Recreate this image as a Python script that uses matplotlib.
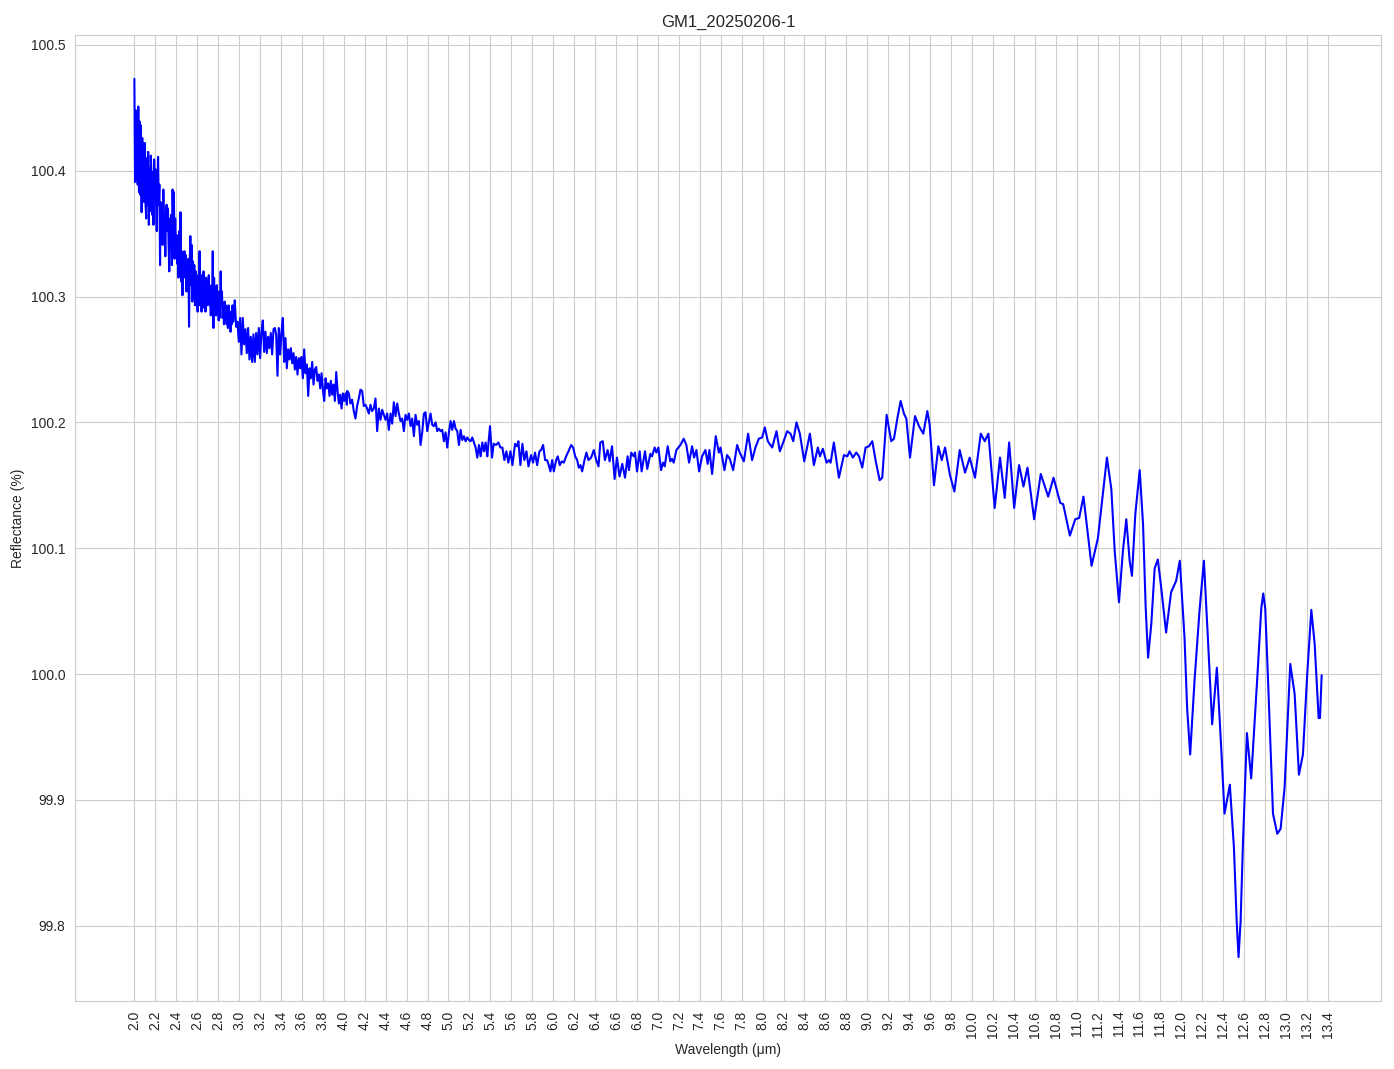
import numpy as np
import matplotlib
matplotlib.use('Agg')
import matplotlib.pyplot as plt
import seaborn as sns

# --- spectrum ---
# 2.00 - 2.95 um, evenly sampled, very noisy
wl_a = np.linspace(2.0, 2.95, 152)
refl_a = [
    100.473, 100.391, 100.448, 100.394, 100.445, 100.389, 100.451, 100.383, 100.439, 100.381,
    100.436, 100.367, 100.426, 100.386, 100.422, 100.375, 100.422, 100.373, 100.362, 100.410,
    100.373, 100.415, 100.357, 100.402, 100.368, 100.412, 100.397, 100.365, 100.399, 100.357,
    100.409, 100.378, 100.401, 100.373, 100.352, 100.391, 100.411, 100.373, 100.389, 100.325,
    100.375, 100.357, 100.373, 100.341, 100.385, 100.354, 100.362, 100.332, 100.367, 100.373,
    100.352, 100.370, 100.340, 100.320, 100.362, 100.341, 100.365, 100.325, 100.385, 100.357,
    100.383, 100.330, 100.362, 100.336, 100.349, 100.326, 100.342, 100.315, 100.352, 100.320,
    100.367, 100.312, 100.336, 100.301, 100.332, 100.315, 100.336, 100.320, 100.333, 100.304,
    100.329, 100.315, 100.330, 100.276, 100.325, 100.348, 100.309, 100.341, 100.296, 100.328,
    100.307, 100.325, 100.293, 100.320, 100.304, 100.309, 100.288, 100.317, 100.299, 100.336,
    100.293, 100.317, 100.288, 100.309, 100.293, 100.320, 100.291, 100.309, 100.288, 100.315,
    100.293, 100.309, 100.299, 100.317, 100.293, 100.308, 100.285, 100.309, 100.293, 100.336,
    100.275, 100.315, 100.293, 100.304, 100.285, 100.309, 100.288, 100.299, 100.281, 100.304,
    100.283, 100.320, 100.293, 100.304, 100.283, 100.293, 100.278, 100.296, 100.281, 100.293,
    100.278, 100.288, 100.275, 100.293, 100.278, 100.285, 100.272, 100.288, 100.278, 100.293,
    100.280, 100.286,
]

# 2.96 - 4.03 um
wl_b = np.linspace(2.959, 4.030, 85)
refl_b = [
    100.297, 100.276, 100.280, 100.264, 100.283, 100.254, 100.283, 100.262, 100.274, 100.255,
    100.275, 100.250, 100.268, 100.248, 100.270, 100.248, 100.271, 100.254, 100.275, 100.251,
    100.272, 100.281, 100.256, 100.272, 100.255, 100.268, 100.259, 100.271, 100.254, 100.274,
    100.275, 100.270, 100.237, 100.275, 100.254, 100.272, 100.283, 100.248, 100.267, 100.243,
    100.258, 100.250, 100.259, 100.247, 100.255, 100.242, 100.252, 100.238, 100.251, 100.243,
    100.252, 100.235, 100.258, 100.239, 100.246, 100.221, 100.243, 100.235, 100.248, 100.230,
    100.242, 100.244, 100.233, 100.238, 100.227, 100.239, 100.226, 100.217, 100.235, 100.227,
    100.231, 100.221, 100.233, 100.222, 100.230, 100.217, 100.240, 100.225, 100.215, 100.222,
    100.211, 100.223, 100.217, 100.223, 100.214,
]

# 4.03 - 5.37 um
wl_c = np.linspace(4.032, 5.371, 85)
refl_c = [
    100.225, 100.223, 100.215, 100.218, 100.209, 100.203, 100.213, 100.219, 100.226, 100.225,
    100.213, 100.214, 100.211, 100.207, 100.214, 100.209, 100.211, 100.219, 100.193, 100.211,
    100.202, 100.210, 100.206, 100.202, 100.207, 100.194, 100.207, 100.199, 100.216, 100.205,
    100.215, 100.207, 100.201, 100.203, 100.193, 100.206, 100.202, 100.207, 100.197, 100.203,
    100.189, 100.206, 100.198, 100.201, 100.182, 100.192, 100.207, 100.208, 100.193, 100.200,
    100.207, 100.198, 100.197, 100.200, 100.193, 100.195, 100.193, 100.194, 100.185, 100.192,
    100.180, 100.192, 100.201, 100.194, 100.201, 100.195, 100.193, 100.182, 100.194, 100.186,
    100.189, 100.185, 100.188, 100.186, 100.185, 100.188, 100.184, 100.180, 100.172, 100.182,
    100.173, 100.184, 100.177, 100.184, 100.173,
]

# 5.37 - 6.43 um
wl_d = [5.375, 5.397, 5.416, 5.432, 5.454, 5.477, 5.496, 5.515, 5.534, 5.553,
        5.572, 5.592, 5.611, 5.636, 5.655, 5.668, 5.687, 5.706, 5.725, 5.745,
        5.764, 5.789, 5.808, 5.827, 5.847, 5.869, 5.885, 5.904, 5.923, 5.942,
        5.958, 5.974, 5.990, 6.006, 6.028, 6.044, 6.063, 6.082, 6.102, 6.124,
        6.146, 6.172, 6.191, 6.210, 6.229, 6.245, 6.261, 6.277, 6.299, 6.318,
        6.337, 6.363, 6.388, 6.411, 6.433]
refl_d = [100.177, 100.197, 100.172, 100.183, 100.182, 100.184, 100.180, 100.180, 100.170, 100.177,
          100.168, 100.177, 100.166, 100.183, 100.181, 100.185, 100.166, 100.183, 100.170, 100.177,
          100.165, 100.174, 100.168, 100.176, 100.166, 100.177, 100.178, 100.182, 100.170, 100.170,
          100.166, 100.161, 100.170, 100.161, 100.170, 100.173, 100.166, 100.169, 100.168, 100.173,
          100.177, 100.182, 100.180, 100.173, 100.170, 100.164, 100.166, 100.161, 100.170, 100.176,
          100.170, 100.172, 100.178, 100.170, 100.165]

# 6.45 - 8.95 um
wl_e = [6.450, 6.474, 6.494, 6.520, 6.539, 6.562, 6.587, 6.609, 6.634, 6.660,
        6.686, 6.711, 6.724, 6.746, 6.769, 6.782, 6.801, 6.826, 6.845, 6.877,
        6.899, 6.928, 6.944, 6.970, 6.986, 7.005, 7.030, 7.049, 7.065, 7.094,
        7.119, 7.135, 7.151, 7.177, 7.215, 7.247, 7.272, 7.298, 7.327, 7.346,
        7.368, 7.394, 7.422, 7.454, 7.476, 7.492, 7.518, 7.553, 7.582, 7.598,
        7.636, 7.661, 7.687, 7.719, 7.757, 7.782, 7.821, 7.862, 7.900, 7.932,
        7.964, 7.996, 8.022, 8.050, 8.092, 8.133, 8.165, 8.197, 8.235, 8.267,
        8.293, 8.324, 8.356, 8.398, 8.452, 8.490, 8.528, 8.548, 8.576, 8.611,
        8.634, 8.650, 8.681, 8.729, 8.777, 8.809, 8.831, 8.863, 8.895, 8.921,
        8.952]
refl_e = [100.184, 100.185, 100.170, 100.178, 100.169, 100.181, 100.155, 100.172, 100.157, 100.167,
          100.156, 100.173, 100.162, 100.176, 100.173, 100.176, 100.161, 100.177, 100.161, 100.177,
          100.163, 100.175, 100.173, 100.180, 100.176, 100.180, 100.162, 100.168, 100.165, 100.181,
          100.169, 100.171, 100.168, 100.178, 100.182, 100.187, 100.182, 100.168, 100.181, 100.172,
          100.178, 100.161, 100.173, 100.178, 100.167, 100.178, 100.159, 100.189, 100.176, 100.180,
          100.162, 100.174, 100.171, 100.162, 100.182, 100.176, 100.169, 100.191, 100.170, 100.180,
          100.187, 100.188, 100.196, 100.185, 100.180, 100.193, 100.177, 100.184, 100.193, 100.191,
          100.185, 100.200, 100.191, 100.169, 100.191, 100.166, 100.180, 100.173, 100.179, 100.168,
          100.170, 100.168, 100.184, 100.156, 100.174, 100.173, 100.177, 100.172, 100.176, 100.173,
          100.164]

# 8.98 - 11.14 um
wl_f = [8.984, 9.016, 9.048, 9.079, 9.118, 9.143, 9.185, 9.229, 9.255, 9.287,
        9.319, 9.350, 9.373, 9.408, 9.456, 9.494, 9.535, 9.574, 9.596, 9.637,
        9.679, 9.711, 9.743, 9.790, 9.832, 9.883, 9.934, 9.978, 10.029, 10.084,
        10.122, 10.157, 10.217, 10.268, 10.313, 10.355, 10.403, 10.450, 10.492, 10.530,
        10.594, 10.657, 10.728, 10.779, 10.843, 10.871, 10.935, 10.986, 11.024, 11.065,
        11.142]
refl_f = [100.180, 100.181, 100.185, 100.170, 100.154, 100.156, 100.206, 100.185, 100.187, 100.203,
          100.217, 100.207, 100.203, 100.172, 100.205, 100.197, 100.191, 100.209, 100.198, 100.150,
          100.181, 100.170, 100.180, 100.158, 100.145, 100.178, 100.160, 100.172, 100.156, 100.191,
          100.185, 100.191, 100.132, 100.172, 100.140, 100.184, 100.132, 100.166, 100.149, 100.164,
          100.123, 100.159, 100.141, 100.156, 100.136, 100.135, 100.110, 100.123, 100.124, 100.141,
          100.086]

# 11.20 - 13.34 um
wl_g = [11.203, 11.242, 11.289, 11.331, 11.363, 11.404, 11.442, 11.474, 11.506, 11.528,
        11.560, 11.602, 11.634, 11.659, 11.682, 11.713, 11.745, 11.775, 11.807, 11.854,
        11.902, 11.950, 11.985, 12.030, 12.055, 12.084, 12.125, 12.173, 12.215, 12.253,
        12.294, 12.339, 12.380, 12.412, 12.463, 12.502, 12.528, 12.546, 12.566, 12.588,
        12.626, 12.667, 12.725, 12.763, 12.782, 12.801, 12.827, 12.875, 12.916, 12.948,
        12.986, 13.040, 13.082, 13.123, 13.161, 13.200, 13.241, 13.273, 13.311, 13.324,
        13.340]
refl_g = [100.108, 100.137, 100.172, 100.147, 100.098, 100.057, 100.098, 100.123, 100.090, 100.078,
          100.127, 100.162, 100.119, 100.053, 100.013, 100.040, 100.084, 100.091, 100.069, 100.033,
          100.065, 100.074, 100.090, 100.029, 99.973, 99.936, 99.994, 100.050, 100.090, 100.029,
          99.960, 100.005, 99.942, 99.889, 99.912, 99.862, 99.804, 99.775, 99.804, 99.865,
          99.953, 99.917, 99.997, 100.052, 100.064, 100.052, 99.997, 99.889, 99.873, 99.877,
          99.910, 100.008, 99.984, 99.920, 99.936, 99.997, 100.051, 100.024, 99.965, 99.965,
          99.999]

wavelength = np.concatenate([wl_a, wl_b, wl_c, wl_d, wl_e, wl_f, wl_g])
reflectance = np.concatenate([refl_a, refl_b, refl_c, refl_d, refl_e, refl_f, refl_g])

x_ticks = np.round(np.arange(2.0, 13.41, 0.2), 1)
y_ticks = [99.8, 99.9, 100.0, 100.1, 100.2, 100.3, 100.4, 100.5]

sns.set_style('whitegrid')
plt.rcParams['font.family'] = ['Liberation Sans', 'DejaVu Sans']

fig, ax = plt.subplots(figsize=(13.94, 10.69), dpi=100)
fig.subplots_adjust(left=0.0538, right=0.9907, top=0.9673, bottom=0.0636)

ax.plot(wavelength, reflectance, color='blue', linewidth=1.5)
ax.set_title('GM1_20250206-1', fontsize=12)
ax.set_xlabel('Wavelength (μm)')
ax.set_ylabel('Reflectance (%)')
ax.set_xticks(x_ticks)
ax.set_xticklabels([f'{t:.1f}' for t in x_ticks], rotation=90)
ax.set_yticks(y_ticks)
ax.set_yticklabels([f'{t:.1f}' for t in y_ticks])

fig.savefig('out.png', dpi=100)
